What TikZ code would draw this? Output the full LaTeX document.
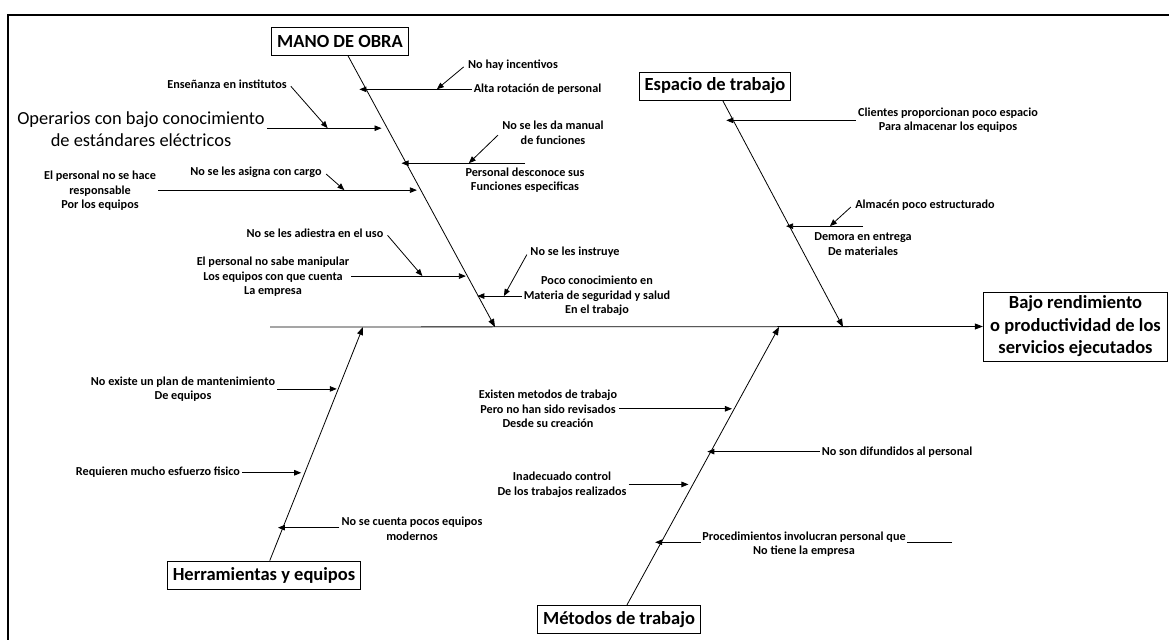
\documentclass[tikz,border=0pt]{standalone}
\usepackage{fontspec}
\setmainfont{Carlito}
\usetikzlibrary{arrows.meta,calc}

\tikzstyle{cause}=[font=\bfseries\fontsize{12.2}{14.6}\selectfont,align=center,inner sep=2pt]
\tikzstyle{category}=[draw,thick,font=\bfseries\fontsize{18.5}{22}\selectfont,minimum height=28pt,inner xsep=5.5pt,inner ysep=4pt]
\tikzstyle{bone}=[draw,line width=0.8pt,-{Triangle[length=8pt,width=6pt]}]
\tikzstyle{twig}=[draw,line width=0.8pt,-{Triangle[length=7pt,width=5.5pt]}]
\newcommand{\fishunit}{1pt}

\begin{document}
\begin{tikzpicture}[x=\fishunit, y=-\fishunit]
    \useasboundingbox (0,0) rectangle (1169,640);
    \draw[line width=2pt] (1169,15) -- (8,15) -- (8,640);
    % First we draw the category boxes and the effect
    \foreach \pos/\name/\txt in {{(340,41)/mano/MANO DE OBRA}, {(715,86)/espacio/Espacio de trabajo},
                                 {(264,575)/herr/Herramientas y equipos}, {(619,619.5)/metodos/Métodos de trabajo}}
        \node[category] (\name) at \pos {\txt};
    \node[category,align=center,inner xsep=7pt,font=\bfseries\fontsize{18.5}{22.5}\selectfont] (efecto) at (1075.5,326.5)
        {Bajo rendimiento\\o productividad de los\\servicios ejecutados};
    % Spine and main bones
    \coordinate (cola) at (270,327);
    \coordinate (mspine) at (495,327);
    \coordinate (espine) at (843,327);
    \coordinate (hspine) at (363,327);
    \coordinate (tspine) at (779,327);
    \path[bone] (cola) -- (efecto.west);
    \path[bone] (mano) -- (mspine);
    \path[bone] (espacio) -- (espine);
    \path[bone] (herr) -- (hspine);
    \path[bone] (metodos) -- (tspine);
    % Points on the bones where the causes arrive
    \coordinate (tip-alta) at ($(mano.south)!0.125!(mspine)$);
    \coordinate (tip-oper) at ($(mano.south)!0.268!(mspine)$);
    \coordinate (tip-pers) at ($(mano.south)!0.397!(mspine)$);
    \coordinate (tip-resp) at ($(mano.south)!0.496!(mspine)$);
    \coordinate (tip-manip) at ($(mano.south)!0.8125!(mspine)$);
    \coordinate (tip-poco) at ($(mano.south)!0.886!(mspine)$);
    \coordinate (tip-clientes) at ($(espacio.south)!0.088!(espine)$);
    \coordinate (tip-demora) at ($(espacio.south)!0.555!(espine)$);
    \coordinate (tip-plan) at ($(herr.north)!0.735!(hspine)$);
    \coordinate (tip-req) at ($(herr.north)!0.376!(hspine)$);
    \coordinate (tip-cuenta) at ($(herr.north)!0.141!(hspine)$);
    \coordinate (tip-exist) at ($(metodos.north)!0.706!(tspine)$);
    \coordinate (tip-difund) at ($(metodos.north)!0.552!(tspine)$);
    \coordinate (tip-inad) at ($(metodos.north)!0.434!(tspine)$);
    \coordinate (tip-proc) at ($(metodos.north)!0.226!(tspine)$);
    % Cause labels
    \foreach \pos/\name/\txt in {{(537.5,89)/alta/Alta rotación de personal},
                                 {(513,65)/incent/No hay incentivos},
                                 {(227,84)/ens/Enseñanza en institutos},
                                 {(553,133)/manual/No se les da manual\\de funciones},
                                 {(525,180)/pers/Personal desconoce sus\\Funciones especificas},
                                 {(256,172)/asigna/No se les asigna con cargo},
                                 {(100,191)/resp/El personal no se hace\\responsable\\Por los equipos},
                                 {(315,233)/adiestra/No se les adiestra en el uso},
                                 {(273,277)/manip/El personal no sabe manipular\\Los equipos con que cuenta\\La empresa},
                                 {(575,252)/instruye/No se les instruye},
                                 {(597,296)/poco/Poco conocimiento en\\Materia de seguridad y salud\\En el trabajo},
                                 {(948,120)/clientes/Clientes proporcionan poco espacio\\Para almacenar los equipos},
                                 {(925,205)/almacen/Almacén poco estructurado},
                                 {(863,244)/demora/Demora en entrega\\De materiales},
                                 {(183,389)/plan/No existe un plan de mantenimiento\\De equipos},
                                 {(158,472)/req/Requieren mucho esfuerzo fisico},
                                 {(412,529)/cuenta/No se cuenta pocos equipos\\modernos},
                                 {(548,409)/exist/Existen metodos de trabajo\\Pero no han sido revisados\\Desde su creación},
                                 {(897,452)/difund/No son difundidos al personal},
                                 {(562,485)/inad/Inadecuado control\\De los trabajos realizados}}
        \node[cause] (\name) at \pos {\txt};
    \node[align=center,font=\fontsize{18.4}{22}\selectfont,inner sep=2pt] (oper) at (141,129)
        {Operarios con bajo conocimiento\\de estándares eléctricos};
    % Connect the causes with the bones
    \foreach \name/\side in {alta/west, oper/east, pers/north, resp/east, manip/east, poco/west,
                             clientes/west, demora/north, plan/east, req/east, cuenta/west,
                             exist/east, difund/west, inad/east}
    {
        \coordinate (root-\name) at (\name.\side |- tip-\name);
        \path[twig] (root-\name) -- (tip-\name);
    }
    \coordinate (root-proc) at ($(tip-proc)+(297,0)$);
    \path[twig] (root-proc) -- (tip-proc);
    \node[cause,fill=white,inner sep=1pt] (proc) at (804,544)
        {Procedimientos involucran personal que\\No tiene la empresa};
    % Sub-causes pointing at the cause lines
    \foreach \src/\side/\tgt/\pp in {incent/west/alta/0.31, ens/east/oper/0.53, manual/west/pers/0.455,
                                     asigna/east/resp/0.72, adiestra/east/manip/0.62,
                                     instruye/west/poco/0.4, almacen/west/demora/0.43}
    {
        \path[twig,shorten <=3pt] (\src.\side) -- ($(root-\tgt)!\pp!(tip-\tgt)$);
    }
\end{tikzpicture}
\end{document}
